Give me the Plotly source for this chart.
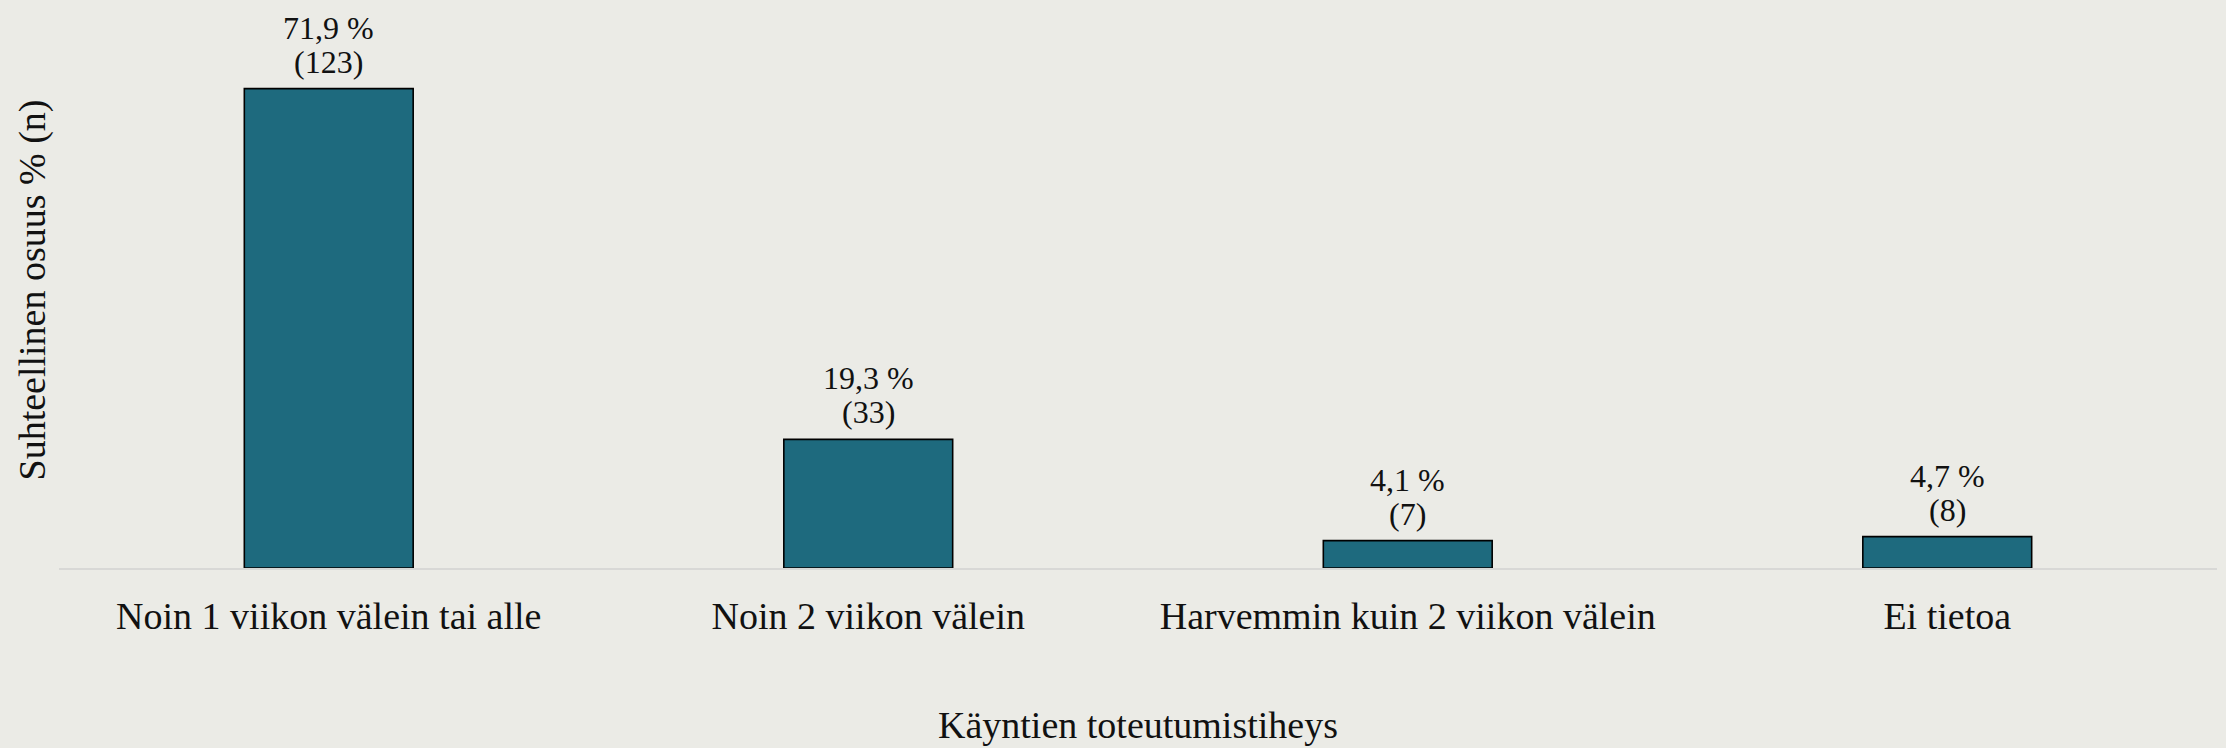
import plotly.graph_objects as go

categories = ["Noin 1 viikon välein tai alle", "Noin 2 viikon välein",
              "Harvemmin kuin 2 viikon välein", "Ei tietoa"]
percent = [71.9, 19.3, 4.1, 4.7]
counts = [123, 33, 7, 8]
pct_labels = [f"{str(p).replace('.', ',')} %" for p in percent]
n_labels = [f"({n})" for n in counts]

FONT = "Liberation Serif"
BG = "#EBEBE6"
fig = go.Figure(go.Bar(
    x=categories, y=percent, cliponaxis=False,
    marker=dict(color="#1E6A7E", line=dict(color="#000000", width=1.6)),
))
for c, p, t1, t2 in zip(categories, percent, pct_labels, n_labels):
    fig.add_annotation(x=c, y=p, text=t1, showarrow=False, yanchor="middle",
                       yshift=61, font=dict(family=FONT, size=32, color="#111111"))
    fig.add_annotation(x=c, y=p, text=t2, showarrow=False, yanchor="middle",
                       yshift=27, font=dict(family=FONT, size=32, color="#111111"))
fig.update_layout(
    width=2226, height=748,
    paper_bgcolor=BG, plot_bgcolor=BG,
    margin=dict(l=59, r=9, t=12, b=175),
    bargap=0.687, showlegend=False,
    font=dict(family=FONT, size=32, color="#111111"),
    xaxis=dict(title=dict(text="Käyntien toteutumistiheys", standoff=76,
                          font=dict(family=FONT, size=38)),
               showline=True, linecolor="#D8D8D6", linewidth=2,
               ticks="", ticklabelstandoff=13, tickfont=dict(family=FONT, size=38)),
    yaxis=dict(title=dict(text="Suhteellinen osuus % (n)", standoff=0,
                          font=dict(family=FONT, size=38)),
               range=[0, 83.4], showticklabels=False, showgrid=False,
               zeroline=False, ticks=""),
)
fig.write_html("out.html", config={"displayModeBar": False},
               post_script="document.body.style.margin='0';")
